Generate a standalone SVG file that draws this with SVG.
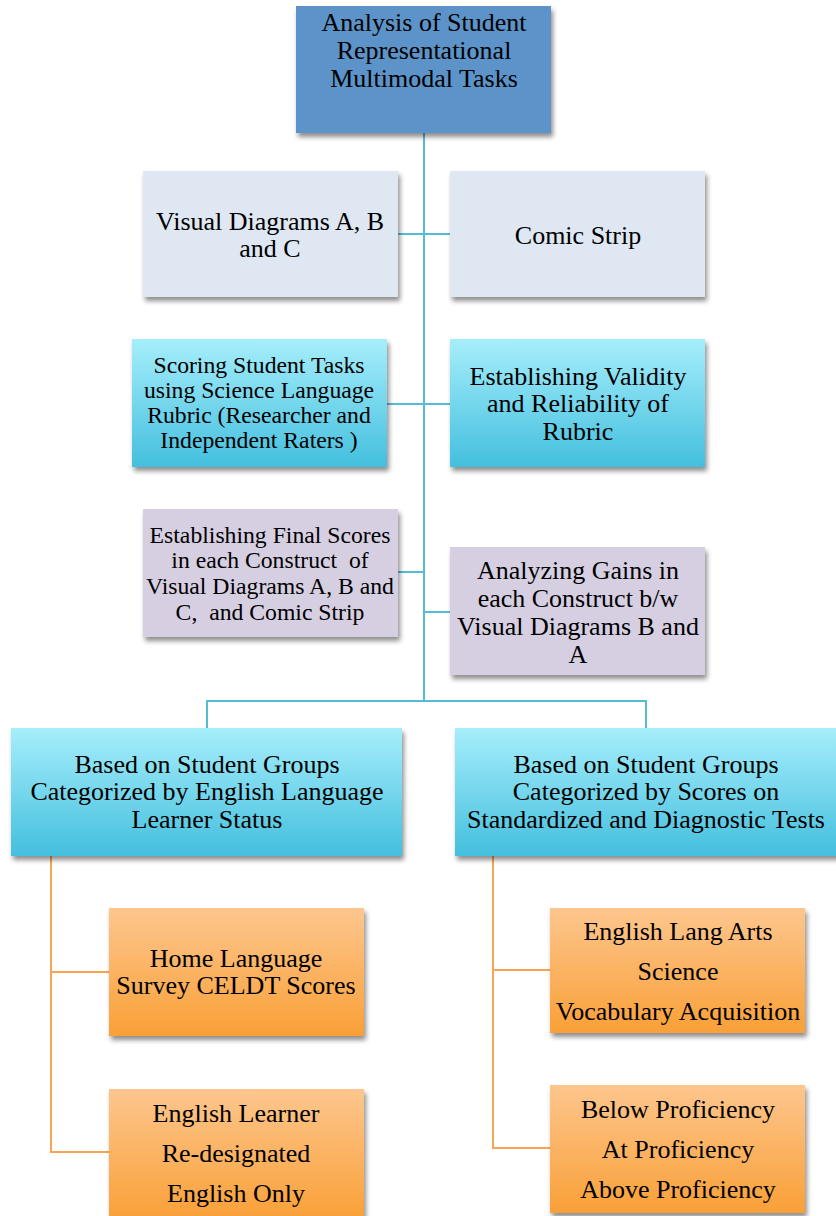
<svg xmlns="http://www.w3.org/2000/svg" width="836" height="1216" viewBox="0 0 836 1216">
  <defs>
    <linearGradient id="gCyan" x1="0" y1="0" x2="0" y2="1">
      <stop offset="0" stop-color="#A6EEFB"/>
      <stop offset="1" stop-color="#44BFDE"/>
    </linearGradient>
    <linearGradient id="gOrange" x1="0" y1="0" x2="0" y2="1">
      <stop offset="0" stop-color="#FDC68E"/>
      <stop offset="1" stop-color="#F9A037"/>
    </linearGradient>
    <filter id="shadow" x="-10%" y="-10%" width="125%" height="130%">
      <feGaussianBlur in="SourceAlpha" stdDeviation="2.5"/>
      <feOffset dx="2" dy="4" result="off"/>
      <feComponentTransfer><feFuncA type="linear" slope="0.45"/></feComponentTransfer>
      <feMerge><feMergeNode/><feMergeNode in="SourceGraphic"/></feMerge>
    </filter>
  </defs>
  <style>
    text { font-family: "Liberation Serif", "Times New Roman", serif; fill: #000; text-anchor: middle; }
    .t26 { font-size: 26px; }
    .t23 { font-size: 23.7px; }
    .pre { white-space: pre; }
    .box { filter: url(#shadow); }
    .root { fill: #5B93C9; }
    .grey { fill: #DEE7F2; }
    .cyan { fill: url(#gCyan); }
    .lilac { fill: #D6CFE2; }
    .orange { fill: url(#gOrange); }
    .blue-link { stroke: #55BCD6; stroke-width: 2; fill: none; }
    .orange-link { stroke: #F8A453; stroke-width: 2; fill: none; }
  </style>

  <rect width="836" height="1216" fill="#FFFFFF"/>

  <!-- connectors -->
  <g id="connectors">
    <path class="blue-link" d="M424 133 V701"/>
    <path class="blue-link" d="M398 234 H450"/>
    <path class="blue-link" d="M387 404 H450"/>
    <path class="blue-link" d="M398 572 H424"/>
    <path class="blue-link" d="M424 612 H450"/>
    <path class="blue-link" d="M207 728 V701 H646 V728"/>
    <path class="orange-link" d="M51 856 V1152 H109"/>
    <path class="orange-link" d="M51 972 H109"/>
    <path class="orange-link" d="M493 856 V1148 H550"/>
    <path class="orange-link" d="M493 970 H550"/>
  </g>

  <g id="analysis">
    <rect class="box root" x="296" y="6" width="255" height="127"/>
    <text class="t26" x="424" y="31">Analysis of Student</text>
    <text class="t26" x="424" y="59">Representational</text>
    <text class="t26" x="424" y="87">Multimodal Tasks</text>
  </g>

  <g id="visual-diagrams">
    <rect class="box grey" x="143" y="171" width="255" height="126"/>
    <text class="t26" x="270" y="230">Visual Diagrams A, B</text>
    <text class="t26" x="270" y="257">and C</text>
  </g>

  <g id="comic-strip">
    <rect class="box grey" x="450" y="171" width="255" height="126"/>
    <text class="t26" x="578" y="244">Comic Strip</text>
  </g>

  <g id="scoring">
    <rect class="box cyan" x="132" y="339" width="255" height="128"/>
    <text class="t23" x="259" y="373">Scoring Student Tasks</text>
    <text class="t23" x="259" y="398">using Science Language</text>
    <text class="t23" x="259" y="423">Rubric (Researcher and</text>
    <text class="t23" x="259" y="448">Independent Raters )</text>
  </g>

  <g id="validity">
    <rect class="box cyan" x="450" y="339" width="255" height="128"/>
    <text class="t26" x="578" y="385">Establishing Validity</text>
    <text class="t26" x="578" y="412">and Reliability of</text>
    <text class="t26" x="578" y="440">Rubric</text>
  </g>

  <g id="final-scores">
    <rect class="box lilac" x="143" y="509" width="255" height="128"/>
    <text class="t23" x="270" y="543">Establishing Final Scores</text>
    <text class="t23 pre" x="270" y="568">in each Construct  of</text>
    <text class="t23" x="270" y="594">Visual Diagrams A, B and</text>
    <text class="t23 pre" x="270" y="620">C,  and Comic Strip</text>
  </g>

  <g id="gains">
    <rect class="box lilac" x="450" y="547" width="255" height="128"/>
    <text class="t26" x="578" y="579">Analyzing Gains in</text>
    <text class="t26" x="578" y="607">each Construct b/w</text>
    <text class="t26" x="578" y="635">Visual Diagrams B and</text>
    <text class="t26" x="578" y="663">A</text>
  </g>

  <g id="ell-groups">
    <rect class="box cyan" x="11" y="728" width="391" height="128"/>
    <text class="t26" x="207" y="773">Based on Student Groups</text>
    <text class="t26" x="207" y="800">Categorized by English Language</text>
    <text class="t26" x="207" y="828">Learner Status</text>
  </g>

  <g id="test-groups">
    <rect class="box cyan" x="455" y="728" width="384" height="128"/>
    <text class="t26" x="646" y="773">Based on Student Groups</text>
    <text class="t26" x="646" y="800">Categorized by Scores on</text>
    <text class="t26" x="646" y="828">Standardized and Diagnostic Tests</text>
  </g>

  <g id="home-language">
    <rect class="box orange" x="109" y="908" width="255" height="128"/>
    <text class="t26" x="236" y="967">Home Language</text>
    <text class="t26" x="236" y="994">Survey CELDT Scores</text>
  </g>

  <g id="learner-status">
    <rect class="box orange" x="109" y="1089" width="255" height="132"/>
    <text class="t26" x="236" y="1122">English Learner</text>
    <text class="t26" x="236" y="1162">Re-designated</text>
    <text class="t26" x="236" y="1202">English Only</text>
  </g>

  <g id="subjects">
    <rect class="box orange" x="550" y="908" width="255" height="125"/>
    <text class="t26" x="678" y="940">English Lang Arts</text>
    <text class="t26" x="678" y="980">Science</text>
    <text class="t26" x="678" y="1020">Vocabulary Acquisition</text>
  </g>

  <g id="proficiency">
    <rect class="box orange" x="550" y="1085" width="255" height="128"/>
    <text class="t26" x="678" y="1118">Below Proficiency</text>
    <text class="t26" x="678" y="1158">At Proficiency</text>
    <text class="t26" x="678" y="1198">Above Proficiency</text>
  </g>
</svg>
